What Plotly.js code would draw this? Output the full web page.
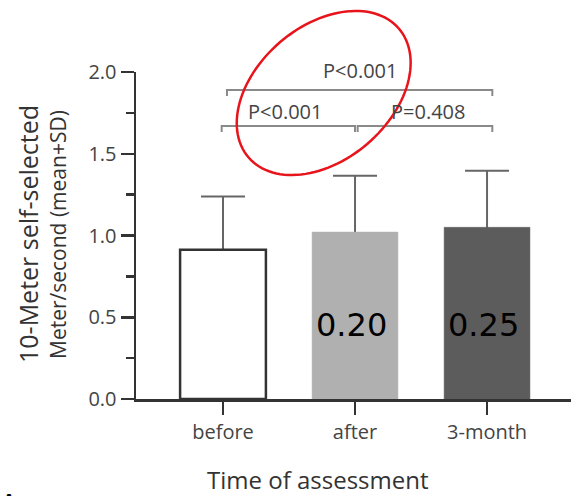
<!DOCTYPE html>
<html>
<head>
<meta charset="utf-8">
<script src="https://cdn.plot.ly/plotly-3.0.1.min.js"></script>
<style>html,body{margin:0;padding:0;background:#fff;}#chart{width:572px;height:496px;}</style>
</head>
<body>
<div id="chart"></div>
<script>
// ---- data ----
const categories = ['before', 'after', '3-month'];
const meanSpeed = [0.913, 1.021, 1.050];
const sdSpeed = [0.326, 0.345, 0.346];
const effectSize = ['', '0.20', '0.25'];
const yTickVals = [0, 0.5, 1.0, 1.5, 2.0];
const yTickText = ['0.0', '0.5', '1.0', '1.5', '2.0'];
// significance brackets
const bracketLabel = ['P<0.001', 'P<0.001', 'P=0.408'];
const bracketX0 = [0.03, -0.01, 1.02];
const bracketX1 = [2.04, 1.0, 2.04];
const bracketY = [1.89, 1.67, 1.67];
const labelX = [1.04, 0.47, 1.55];
const labelY = [2.01, 1.76, 1.76];

// ---- layout geometry ----
const W = 572, H = 496;
const M = {l: 136, r: 1, t: 72, b: 97};
const PW = W - M.l - M.r, PH = H - M.t - M.b;
const yRange = [0, 2];
const xRange = [-0.659, 2.636];
const yPaper = v => (v - yRange[0]) / (yRange[1] - yRange[0]);
const pxX = px => (px - M.l) / PW;
const pxY = py => (H - M.b - py) / PH;

const x = categories.map((c, i) => i);

// error bars drawn first (beneath the bars) so the lower cap is hidden
const errTrace = {
  type: 'bar',
  x: x,
  y: meanSpeed,
  width: 0.65,
  marker: {color: 'rgba(0,0,0,0)', line: {width: 0}},
  error_y: {
    type: 'data', symmetric: false, array: sdSpeed, arrayminus: sdSpeed.map(() => 0.05),
    color: '#666666', thickness: 2, width: 22
  },
  hoverinfo: 'none'
};

const barTrace = {
  type: 'bar',
  x: x,
  y: meanSpeed,
  width: 0.65,
  marker: {
    color: ['#ffffff', '#b0b0b0', '#5c5c5c'],
    line: {color: ['#333333', '#b0b0b0', '#5c5c5c'], width: [2.5, 0.5, 0.5]}
  },
  hoverinfo: 'none'
};

const shapes = [];
const tip = 0.037;
for (let i = 0; i < bracketLabel.length; i++) {
  const y = yPaper(bracketY[i]), yt = yPaper(bracketY[i] - tip);
  shapes.push({
    type: 'path', xref: 'x', yref: 'paper',
    path: `M ${bracketX0[i]},${yt} L ${bracketX0[i]},${y} L ${bracketX1[i]},${y} L ${bracketX1[i]},${yt}`,
    line: {color: '#8a8a8a', width: 2}
  });
}
// red ellipse (highlight)
(function () {
  const cx = 323.7, cy = 93, a = 99, b = 67, ang = 40.5 * Math.PI / 180;
  const ux = Math.cos(ang), uy = -Math.sin(ang), vx = Math.sin(ang), vy = Math.cos(ang);
  let p = '';
  for (let k = 0; k <= 120; k++) {
    const t = 2 * Math.PI * k / 120;
    const px = cx + a * Math.cos(t) * ux + b * Math.sin(t) * vx;
    const py = cy + a * Math.cos(t) * uy + b * Math.sin(t) * vy;
    p += (k === 0 ? 'M ' : ' L ') + pxX(px).toFixed(5) + ',' + pxY(py).toFixed(5);
  }
  p += ' Z';
  shapes.push({type: 'path', xref: 'paper', yref: 'paper', path: p,
    line: {color: '#e8141b', width: 2.5}});
})();

const annotations = [];
for (let i = 0; i < bracketLabel.length; i++) {
  annotations.push({
    xref: 'x', yref: 'paper', x: labelX[i], y: yPaper(labelY[i]),
    text: bracketLabel[i], showarrow: false, xanchor: 'center', yanchor: 'middle',
    font: {family: 'Open Sans', size: 20, color: '#444444'}
  });
}
for (let i = 0; i < categories.length; i++) {
  if (effectSize[i]) {
    annotations.push({
      xref: 'x', yref: 'y', x: x[i] - 0.03, y: 0.455, text: effectSize[i], showarrow: false,
      xanchor: 'center', yanchor: 'middle',
      font: {family: 'DejaVu Sans', size: 32, color: '#000000'}
    });
  }
}
// y-axis titles
annotations.push({
  xref: 'paper', yref: 'paper', x: pxX(28), y: pxY(234), textangle: -90,
  text: '10-Meter self-selected', showarrow: false, xanchor: 'center', yanchor: 'middle',
  font: {family: 'Open Sans', size: 25, color: '#333333'}
});
annotations.push({
  xref: 'paper', yref: 'paper', x: pxX(58), y: pxY(235), textangle: -90,
  text: 'Meter/second (mean+SD)', showarrow: false, xanchor: 'center', yanchor: 'middle',
  font: {family: 'Open Sans', size: 21, color: '#333333'}
});
// x-axis title
annotations.push({
  xref: 'paper', yref: 'paper', x: pxX(317), y: pxY(479),
  text: 'Time of assessment', showarrow: false, xanchor: 'center', yanchor: 'middle',
  borderpad: 0,
  font: {family: 'Open Sans', size: 24, color: '#333333'}
});
// panel letter (mostly cut off at the bottom edge, as in the reference)
annotations.push({
  xref: 'paper', yref: 'paper', x: pxX(9), y: pxY(500),
  text: '<b>A</b>', showarrow: false, xanchor: 'center', yanchor: 'middle',
  font: {family: 'Liberation Serif', size: 22, color: '#000000'}
});

const layout = {
  width: W, height: H,
  margin: M,
  paper_bgcolor: '#ffffff', plot_bgcolor: '#ffffff',
  showlegend: false,
  barmode: 'overlay',
  font: {family: 'Open Sans', color: '#444444'},
  xaxis: {
    range: xRange, tickvals: x, ticktext: categories,
    showline: true, linecolor: '#333333', linewidth: 2.5,
    ticks: 'outside', ticklen: 13, tickwidth: 2.5, tickcolor: '#333333',
    tickfont: {size: 20, color: '#444444'},
    showgrid: false, zeroline: false, fixedrange: true
  },
  yaxis: {
    range: yRange, tickvals: yTickVals, ticktext: yTickText,
    showline: true, linecolor: '#333333', linewidth: 2.5,
    ticks: 'outside', ticklen: 13, tickwidth: 2.5, tickcolor: '#333333',
    minor: {dtick: 0.25, ticks: 'outside', ticklen: 8, tickwidth: 2.5, tickcolor: '#333333', showgrid: false},
    tickfont: {size: 20, color: '#444444'},
    showgrid: false, zeroline: false, fixedrange: true
  },
  shapes: shapes,
  annotations: annotations
};

Plotly.newPlot('chart', [errTrace, barTrace], layout, {displayModeBar: false, staticPlot: true});
</script>
</body>
</html>
